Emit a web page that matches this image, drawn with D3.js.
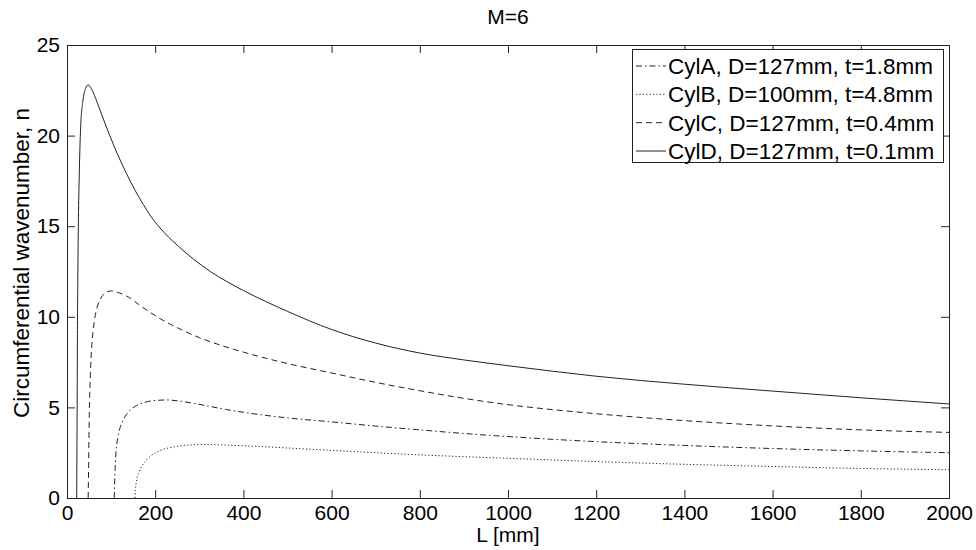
<!DOCTYPE html>
<html>
<head>
<meta charset="utf-8">
<script src="https://cdn.jsdelivr.net/npm/d3@7"></script>
<style>
  html, body { margin: 0; padding: 0; background: #fff; }
  svg { display: block; font-family: "Liberation Sans", Arial, sans-serif; }
</style>
</head>
<body>
<svg id="chart" width="976" height="550"></svg>
<script>
// Circumferential wavenumber n against cylinder length L for four cylinders (M = 6)
const titleText = "M=6";
const xLabel = "L [mm]";
const yLabel = "Circumferential wavenumber, n";
const xTicks = [0, 200, 400, 600, 800, 1000, 1200, 1400, 1600, 1800, 2000];
const yTicks = [0, 5, 10, 15, 20, 25];

const seriesNames = [
  "CylA, D=127mm, t=1.8mm",
  "CylB, D=100mm, t=4.8mm",
  "CylC, D=127mm, t=0.4mm",
  "CylD, D=127mm, t=0.1mm"
];

// [L (mm), n]
const cylA = [
  [107, 0], [108.5, 1.2], [111, 2.5], [115, 3.3], [120, 3.85], [127, 4.3], [135, 4.62],
  [145, 4.9], [158, 5.1], [175, 5.27], [196, 5.37], [226, 5.41], [255, 5.35], [286, 5.23],
  [325, 5.05], [362, 4.88], [400, 4.73], [500, 4.42], [600, 4.2], [700, 3.97], [800, 3.76],
  [900, 3.56], [1000, 3.39], [1100, 3.24], [1200, 3.11], [1400, 2.9], [1600, 2.73],
  [1800, 2.6], [2000, 2.5]
];
const cylB = [
  [154, 0], [155, 0.4], [158, 1.0], [163, 1.4], [169, 1.73], [178, 2.03], [188, 2.28],
  [200, 2.48], [211, 2.62], [230, 2.76], [249, 2.85], [280, 2.93], [309, 2.95], [362, 2.92],
  [438, 2.84], [500, 2.76], [600, 2.63], [700, 2.5], [800, 2.38], [900, 2.28], [1000, 2.19],
  [1100, 2.1], [1200, 2.01], [1400, 1.86], [1600, 1.74], [1800, 1.63], [2000, 1.56]
];
const cylC = [
  [48, 0], [49, 1.8], [50.6, 4.67], [53, 6.8], [56, 8.35], [59.5, 9.3], [63.5, 10.0],
  [70, 10.65], [78.6, 11.1], [89, 11.35], [101, 11.43], [115, 11.35], [135, 11.15],
  [170, 10.55], [211, 9.9], [250, 9.4], [300, 8.85], [350, 8.42], [400, 8.05], [500, 7.42],
  [600, 6.9], [700, 6.38], [800, 5.92], [900, 5.5], [1000, 5.15], [1100, 4.88], [1200, 4.65],
  [1400, 4.27], [1600, 3.98], [1800, 3.76], [2000, 3.62]
];
const cylD = [
  [22, 0], [22.6, 3], [23.2, 6], [23.6, 8.7], [24.5, 12], [25.7, 15.0], [27.5, 17.5],
  [31, 20.5], [36, 21.9], [42, 22.6], [48, 22.8], [55, 22.6], [65, 22.05], [75, 21.4],
  [85, 20.75], [97, 20.0], [115, 18.95], [135, 17.9], [155, 16.95], [173, 16.2],
  [190, 15.55], [211, 14.9], [250, 13.95], [286, 13.2], [325, 12.5], [362, 11.95],
  [400, 11.45], [500, 10.3], [600, 9.3], [700, 8.55], [800, 8.0], [900, 7.62], [1000, 7.3],
  [1100, 7.0], [1200, 6.72], [1400, 6.28], [1600, 5.9], [1800, 5.53], [2000, 5.19]
];

const seriesData = [cylA, cylB, cylC, cylD];
const dashes = ["6,3,1.5,3", "1.2,2.2", "6,4", null];

const svg = d3.select("#chart");
const m = { left: 67, right: 949, top: 45, bottom: 498 };

const x = d3.scaleLinear().domain([0, 2000]).range([m.left, m.right]);
const y = d3.scaleLinear().domain([0, 25]).range([m.bottom, m.top]);

const ink = "#222";
const tickLen = 8;
const fontSize = 21;
const labelSize = 22.5;

// plot area background
svg.append("rect")
  .attr("x", m.left).attr("y", m.top)
  .attr("width", m.right - m.left).attr("height", m.bottom - m.top)
  .attr("fill", "#fff");

// axes with inward ticks on all four sides
const axB = d3.axisBottom(x).tickValues(xTicks).tickSizeInner(-tickLen).tickSizeOuter(0).tickPadding(7).tickFormat(d3.format("d"));
const axT = d3.axisTop(x).tickValues(xTicks).tickSizeInner(-tickLen).tickSizeOuter(0).tickFormat("");
const axL = d3.axisLeft(y).tickValues(yTicks).tickSizeInner(-tickLen).tickSizeOuter(0).tickPadding(7).tickFormat(d3.format("d"));
const axR = d3.axisRight(y).tickValues(yTicks).tickSizeInner(-tickLen).tickSizeOuter(0).tickFormat("");

function styleAxis(g) {
  g.select(".domain").remove();
  g.selectAll(".tick line").attr("stroke", ink).attr("stroke-width", 1);
  g.selectAll(".tick text").attr("fill", "#000").attr("font-size", fontSize)
    .attr("font-family", "'Liberation Sans', Arial, sans-serif");
}

svg.append("g").attr("transform", `translate(0,${m.bottom})`).call(axB).call(styleAxis);
svg.append("g").attr("transform", `translate(0,${m.top})`).call(axT).call(styleAxis);
svg.append("g").attr("transform", `translate(${m.left},0)`).call(axL).call(styleAxis);
svg.append("g").attr("transform", `translate(${m.right},0)`).call(axR).call(styleAxis);

// curves
const line = d3.line()
  .x(d => x(d[0]))
  .y(d => y(d[1]))
  .curve(d3.curveMonotoneX);

const curves = svg.append("g");
seriesData.forEach((data, i) => {
  curves.append("path")
    .datum(data)
    .attr("d", line)
    .attr("fill", "none")
    .attr("stroke", ink)
    .attr("stroke-width", 1)
    .attr("stroke-dasharray", dashes[i]);
});

// frame
svg.append("rect")
  .attr("x", m.left + 0.5).attr("y", m.top + 0.5)
  .attr("width", m.right - m.left).attr("height", m.bottom - m.top)
  .attr("fill", "none").attr("stroke", ink).attr("stroke-width", 1);

// title and axis labels
svg.append("text")
  .attr("x", (m.left + m.right) / 2).attr("y", 24)
  .attr("text-anchor", "middle").attr("font-size", fontSize).attr("fill", "#000")
  .text(titleText);

svg.append("text")
  .attr("x", (m.left + m.right) / 2).attr("y", 542)
  .attr("text-anchor", "middle").attr("font-size", fontSize).attr("fill", "#000")
  .text(xLabel);

svg.append("text")
  .attr("transform", `translate(29,263) rotate(-90)`)
  .attr("text-anchor", "middle").attr("font-size", labelSize).attr("fill", "#000")
  .text(yLabel);

// legend
const lg = { x0: 632, y0: 49, x1: 943, y1: 162 };
const legend = svg.append("g");
legend.append("rect")
  .attr("x", lg.x0 + 0.5).attr("y", lg.y0 + 0.5)
  .attr("width", lg.x1 - lg.x0).attr("height", lg.y1 - lg.y0)
  .attr("fill", "#fff").attr("stroke", ink).attr("stroke-width", 1);

const rowY = d3.scalePoint().domain(seriesNames).range([66, 151]);
seriesNames.forEach((name, i) => {
  const yy = rowY(name);
  legend.append("line")
    .attr("x1", 636).attr("x2", 666).attr("y1", yy).attr("y2", yy)
    .attr("stroke", ink).attr("stroke-width", 1)
    .attr("stroke-dasharray", dashes[i]);
  legend.append("text")
    .attr("x", 668).attr("y", yy + 8)
    .attr("font-size", labelSize).attr("fill", "#000")
    .text(name);
});
</script>
</body>
</html>
